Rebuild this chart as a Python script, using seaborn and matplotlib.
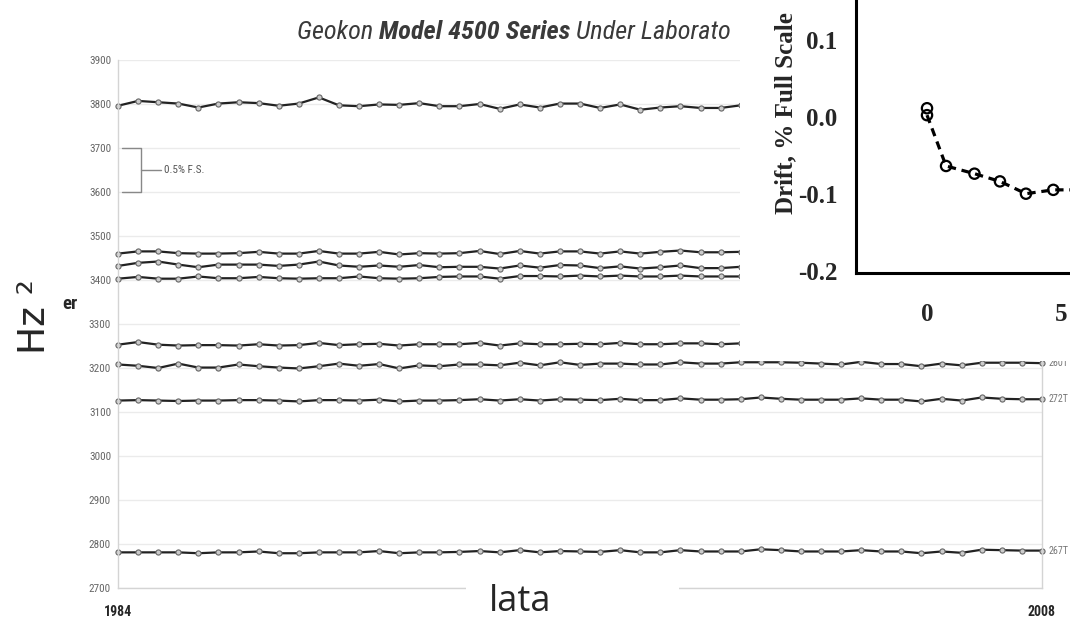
import numpy as np
import pandas as pd
import matplotlib
matplotlib.use('Agg')
import matplotlib.pyplot as plt
import seaborn as sns
from matplotlib import font_manager
from matplotlib.patches import Rectangle

# main chart: readings (Hz^2) of the sensors, 1984 -> 2008
year_labels = ['1984', '2008']
n_points = 47

s1 = [3796, 3807, 3804, 3801, 3792, 3801, 3804, 3802, 3796, 3801, 3815, 3797, 3795, 3799, 3798, 3802,
      3795, 3795, 3800, 3789, 3799, 3792, 3801, 3801, 3791, 3799, 3787, 3792, 3795, 3791, 3791, 3797]
s2 = [3460, 3465, 3465, 3461, 3460, 3460, 3461, 3464, 3460, 3460, 3466, 3460, 3460, 3464, 3458, 3461,
      3460, 3461, 3466, 3459, 3466, 3460, 3465, 3465, 3460, 3465, 3460, 3464, 3467, 3463, 3463, 3464]
s3 = [3432, 3439, 3442, 3435, 3429, 3435, 3435, 3435, 3432, 3435, 3442, 3433, 3430, 3433, 3430, 3434,
      3429, 3430, 3430, 3426, 3433, 3428, 3434, 3433, 3427, 3431, 3426, 3429, 3433, 3427, 3427, 3430]
s4 = [3403, 3407, 3403, 3403, 3408, 3404, 3404, 3407, 3404, 3403, 3404, 3404, 3408, 3404, 3403, 3404,
      3407, 3408, 3408, 3403, 3409, 3409, 3408, 3410, 3408, 3410, 3408, 3408, 3410, 3408, 3408, 3408]
s5 = [3253, 3259, 3253, 3251, 3252, 3252, 3251, 3254, 3251, 3252, 3257, 3252, 3254, 3255, 3251, 3254,
      3254, 3254, 3257, 3251, 3256, 3254, 3254, 3255, 3254, 3257, 3254, 3254, 3256, 3256, 3254, 3256]
s260 = [3208, 3205, 3200, 3210, 3201, 3201, 3208, 3204, 3201, 3199, 3204, 3210, 3205, 3209, 3199, 3206,
        3204, 3208, 3208, 3206, 3212, 3206, 3213, 3207, 3210, 3210, 3208, 3208, 3213, 3210, 3210, 3213,
        3213, 3213, 3212, 3210, 3208, 3214, 3209, 3209, 3204, 3210, 3206, 3212, 3212, 3212, 3211]
s272 = [3126, 3127, 3126, 3125, 3126, 3126, 3127, 3127, 3126, 3124, 3127, 3127, 3126, 3128, 3124, 3126,
        3126, 3127, 3129, 3126, 3129, 3126, 3129, 3128, 3127, 3130, 3127, 3127, 3131, 3128, 3128, 3129,
        3133, 3130, 3128, 3128, 3128, 3131, 3128, 3128, 3124, 3130, 3126, 3133, 3130, 3129, 3129]
s267 = [2781, 2781, 2781, 2781, 2779, 2781, 2781, 2783, 2779, 2779, 2781, 2781, 2781, 2784, 2779, 2781,
        2781, 2782, 2784, 2781, 2786, 2781, 2784, 2783, 2782, 2786, 2781, 2781, 2786, 2783, 2783, 2783,
        2788, 2786, 2783, 2783, 2783, 2786, 2783, 2783, 2779, 2783, 2780, 2787, 2786, 2785, 2785]

series = {'s1': s1, 's2': s2, 's3': s3, 's4': s4, 's5': s5,
          '260T': s260, '272T': s272, '267T': s267}
end_labels = ['260T', '272T', '267T']

# inset: drift vs time
drift_x = [0, 0, 0.71, 1.77, 2.72, 3.69, 4.71, 5.65]
drift_y = [0.011, 0.002, -0.064, -0.074, -0.084, -0.100, -0.095, -0.095]
drift_yticks = [-0.2, -0.1, 0.0, 0.1]
drift_ylabels = ['-0.2', '-0.1', '0.0', '0.1']
drift_xticks = [0, 5]

sns.set_style('white')
names = {f.name for f in font_manager.fontManager.ttflist}
narrow = next((n for n in ['Liberation Sans Narrow', 'Roboto Condensed'] if n in names), 'DejaVu Sans')
plt.rcParams['font.family'] = ['DejaVu Sans']

W, H = 1070, 622
fig = plt.figure(figsize=(W / 100, H / 100), dpi=100)


def px(x0, y0, x1, y1):
    return [x0 / W, 1 - y1 / H, (x1 - x0) / W, (y1 - y0) / H]


ax = fig.add_axes(px(118, 60, 1042, 588))
rows = [(name, i, v) for name, vals in series.items() for i, v in enumerate(vals)]
df = pd.DataFrame(rows, columns=['sensor', 'reading', 'hz2'])
sns.lineplot(data=df, x='reading', y='hz2', hue='sensor', palette=['#222222'] * len(series),
             marker='o', markersize=3.7, markerfacecolor='#cbcbcb', markeredgecolor='#666666',
             markeredgewidth=0.8, linewidth=1.6, legend=False, ax=ax)
for line in ax.lines:
    line.set_clip_on(False)

ax.set_xlim(0, n_points - 1)
ax.set_ylim(2700, 3900)
ax.set_yticks(range(2700, 3901, 100))
ax.set_xticks([0, n_points - 1], year_labels)
ax.set_xlabel('')
ax.set_ylabel('')
ax.grid(axis='y', color='#ebebeb', lw=1)
ax.set_axisbelow(True)
ax.tick_params(axis='y', length=0, pad=5, labelsize=8, labelcolor='#666666')
ax.tick_params(axis='x', length=0, pad=12, labelsize=10)
for lab in ax.get_yticklabels():
    lab.set_fontfamily(narrow)
for lab in ax.get_xticklabels():
    lab.set_fontfamily(narrow)
    lab.set_fontweight('bold')
for side in ['left', 'right', 'bottom']:
    ax.spines[side].set_color('#d4d4d4')
    ax.spines[side].set_linewidth(1)
ax.spines['top'].set_visible(False)

for name in end_labels:
    ax.annotate(name, xy=(n_points - 1, series[name][-1]), xytext=(4.5, 0), textcoords='offset points',
                va='center', fontsize=7.2, color='#777777', family=narrow)

# 0.5% F.S. bracket
tr = ax.get_yaxis_transform()
ax.plot([0.004, 0.0246, 0.0246, 0.004], [3700, 3700, 3600, 3600], transform=tr, color='#888888', lw=1)
ax.plot([0.0246, 0.047], [3650, 3650], transform=tr, color='#888888', lw=1)
ax.text(0.0495, 3650, '0.5% F.S.', transform=tr, va='center', fontsize=8, color='#555555', family=narrow)

# title, mixed weights
renderer = fig.canvas.get_renderer()
tx = 297 / W
for txt, weight in [('Geokon ', 'normal'), ('Model 4500 Series', 'bold'), (' Under Laborato', 'normal')]:
    t = fig.text(tx, 1 - 39 / H, txt, fontsize=18.9, fontstyle='italic', fontweight=weight,
                 family=narrow, color='#3a3a3a', va='baseline', zorder=0.5)
    tx = t.get_window_extent(renderer).x1 / W

fig.text(62 / W, 1 - 309 / H, 'er', fontsize=13.5, fontweight='bold', family=narrow, va='baseline')

# white patches laid over the chart
fig.add_artist(Rectangle((740 / W, 1 - 361 / H), (W - 740) / W, 361 / H, transform=fig.transFigure,
                         facecolor='white', edgecolor='none', zorder=1))
fig.add_artist(Rectangle((466 / W, 0), (679 - 466) / W, 44 / H, transform=fig.transFigure,
                         facecolor='white', edgecolor='none', zorder=1))

fig.text(45 / W, 1 - 317 / H, 'Hz ²', fontsize=27, rotation=90, rotation_mode='anchor',
         ha='center', va='baseline', zorder=3)
fig.text(520 / W, 1 - 611 / H, 'lata', fontsize=26, family='Open Sans', ha='center', va='baseline', zorder=3)

# inset drift plot
ax2 = fig.add_axes(px(856, -37.3, 1123, 273.4))
ax2.set_zorder(2)
ax2.patch.set_alpha(0)
sns.lineplot(x=drift_x[1:], y=drift_y[1:], ax=ax2, color='black', lw=2.3, sort=False,
             linestyle=(0, (2.6, 1.8)))
sns.scatterplot(x=drift_x, y=drift_y, ax=ax2, marker='o', s=55, fc='none', ec='black',
                linewidth=1.6, zorder=3)
ax2.set_xlim(-2.649, 7.31)
ax2.set_ylim(-0.2035, 0.2)
ax2.set_yticks(drift_yticks, drift_ylabels)
ax2.set_yticks([-0.15, -0.05, 0.05], minor=True)
ax2.set_xticks(drift_xticks)
ax2.set_xticks([-2, -1, 1, 2, 3, 4], minor=True)
ax2.tick_params(which='major', direction='in', length=10, width=1.8, labelsize=18, color='black')
ax2.tick_params(which='minor', direction='in', length=6, width=1.5, color='black')
ax2.tick_params(axis='y', which='major', pad=13.5)
ax2.tick_params(axis='x', which='major', pad=21.5)
for lab in ax2.get_yticklabels() + ax2.get_xticklabels():
    lab.set_fontfamily('Liberation Serif')
    lab.set_fontweight('bold')
for side in ['left', 'bottom']:
    ax2.spines[side].set_color('black')
    ax2.spines[side].set_linewidth(2.2)
for side in ['top', 'right']:
    ax2.spines[side].set_visible(False)
ax2.set_xlabel('')
ax2.set_ylabel('Drift, % Full Scale', fontsize=18, fontweight='bold', family='Liberation Serif')
ax2.yaxis.set_label_coords((797 - 856) / 267, (273.4 - 113) / 310.7)

fig.savefig('out.png', dpi=100)
